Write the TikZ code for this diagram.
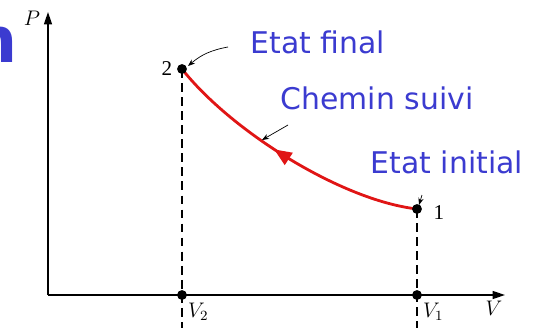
\documentclass[tikz,border=0pt]{standalone}
\usepackage{fontspec}
\setmainfont{Liberation Serif}
\newfontfamily\handfont{DejaVu Sans}
\usetikzlibrary{arrows.meta,positioning,calc,decorations.markings}
\definecolor{Hand}{HTML}{3B3BD0}
\definecolor{Route}{HTML}{E01515}
\begin{document}
\begin{tikzpicture}[x=0.02cm,y=-0.02cm,every node/.style={font=\fontsize{12}{12}\selectfont},
  axis/.style={line width=0.8pt,-{Triangle[length=7pt,width=4.5pt]}},
  guide/.style={line width=0.7pt,dash pattern=on 5pt off 3pt},
  note/.style={font=\handfont\fontsize{17}{17}\selectfont,text=Hand,inner sep=0pt},
  pointer/.style={line width=0.4pt,-{Stealth[length=4pt,width=3pt]}}]
\clip (0,0) rectangle (542,328);
\useasboundingbox (0,0) rectangle (542,328);
% axes
\coordinate (o) at (48,295);\coordinate (ptip) at (48,12);
\coordinate (vtip) at (505,295);
\draw[axis] (o)--(ptip);
\draw[axis] (o)--(vtip);
\node (plab) at (32,18) {$P$};
\node (vlab) at (494,308) {$V$};
% states
\coordinate (s2) at (182,69);\coordinate (s1) at (417,209);
\coordinate (v2) at (182,295);\coordinate (v1) at (417,295);
\coordinate (b2) at (182,330);\coordinate (b1) at (417,330);
\draw[guide] (s2)--(b2);
\draw[guide] (s1)--(b1);
\draw[line width=1.6pt,Route,postaction={decorate},
 decoration={markings,mark=at position 0.56 with {\arrow{Triangle[length=10pt,width=8pt]}}}]
 (s1) .. controls (340,200) and (230,130) .. (s2);
\fill (s2) circle (2.8pt) node[left,xshift=-2pt] {2};
\fill (s1) circle (2.8pt) node[right,xshift=6pt,yshift=-2pt] {1};
\fill (v2) circle (2.8pt) node[below right,xshift=0pt,yshift=-1pt] {$V_2$};
\fill (v1) circle (2.8pt) node[below right,xshift=0pt,yshift=-1pt] {$V_1$};
% labels
\node[note] (fin) at (318,42) {Etat final};
\node[note] (chem) at (377,98) {Chemin suivi};
\node[note] (init) at (447,162) {Etat initial};
\coordinate (f0) at (228,47);\coordinate (f1) at (188,66);
\coordinate (c0) at (288,125);\coordinate (c1) at (262,140);
\coordinate (i0) at (422,195);\coordinate (i1) at (419,205);
\draw[pointer] (f0) to[bend right=15] (f1);
\draw[pointer] (c0)--(c1);
\draw[pointer] (i0)--(i1);
\node[anchor=base east,font=\handfont\bfseries\fontsize{36}{36}\selectfont,text=Hand,inner sep=0pt] (frag) at (18,63) {n};
\end{tikzpicture}
\end{document}
